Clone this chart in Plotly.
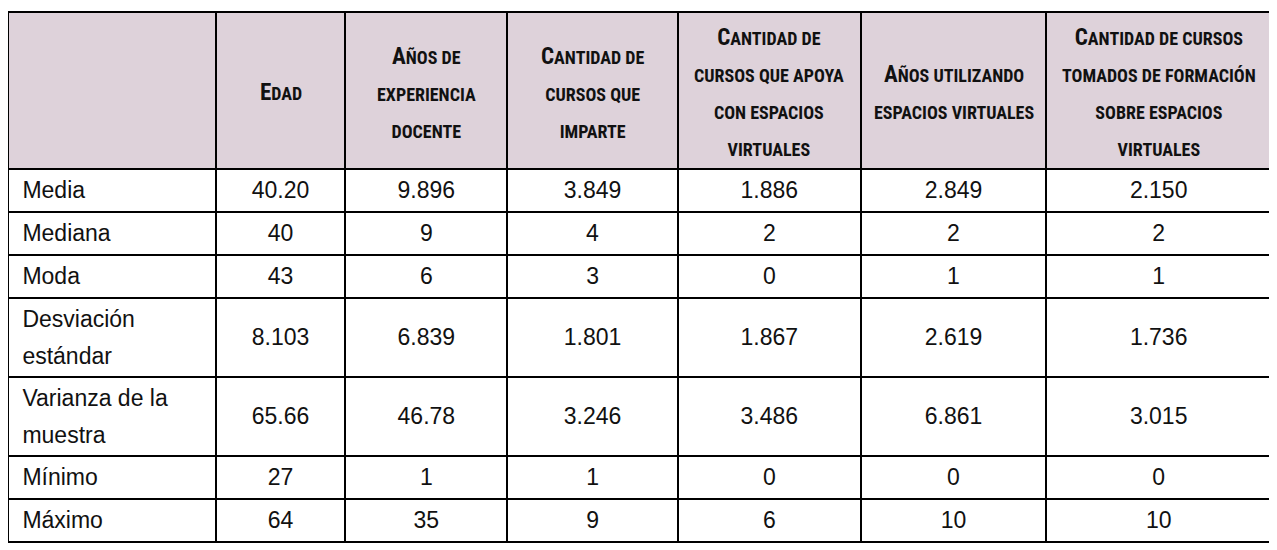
import plotly.graph_objects as go

# Datos de la tabla
encabezados = [
    [],
    ["Edad"],
    ["Años de", "experiencia", "docente"],
    ["Cantidad de", "cursos que", "imparte"],
    ["Cantidad de", "cursos que apoya", "con espacios", "virtuales"],
    ["Años utilizando", "espacios virtuales"],
    ["Cantidad de cursos", "tomados de formación", "sobre espacios", "virtuales"],
]
estadisticos = ["Media", "Mediana", "Moda", "Desviación<br>estándar",
                "Varianza de la<br>muestra", "Mínimo", "Máximo"]
edad = ["40.20", "40", "43", "8.103", "65.66", "27", "64"]
experiencia = ["9.896", "9", "6", "6.839", "46.78", "1", "35"]
cursos_imparte = ["3.849", "4", "3", "1.801", "3.246", "1", "9"]
cursos_apoya = ["1.886", "2", "0", "1.867", "3.486", "0", "6"]
anios_virtuales = ["2.849", "2", "1", "2.619", "6.861", "0", "10"]
cursos_formacion = ["2.150", "2", "1", "1.736", "3.015", "0", "10"]

anchos = [208, 130, 162, 171, 183, 186, 225]

GRANDE = 23
PEQUE = 18
BASE = 14.2  # interlineado = 1.3 * BASE (medio renglón)
TXT = 23
ESTILO_ENC = "font-stretch:condensed;"
FUENTE_ENC = "Noto Sans ExtraCondensed, Noto Sans Condensed, Roboto, sans-serif"


def sp(txt, size, extra=""):
    return f"<span style='font-size:{size}px;{extra}'>{txt}</span>"


def versalitas(lineas):
    # primera letra grande, resto en mayúsculas pequeñas
    partes = []
    for i, lin in enumerate(lineas):
        if i == 0:
            s = sp(lin[0].upper(), GRANDE, ESTILO_ENC) + sp(lin[1:].upper(), PEQUE, ESTILO_ENC)
        else:
            s = sp(lin.upper(), PEQUE, ESTILO_ENC)
        partes.append(s)
    return "<br>".join(partes)


dobles = ["<br>" in e for e in estadisticos]


def etiqueta(e):
    return "<br><br>".join(sp("&nbsp;" + p, TXT) for p in e.split("<br>")) + "<br>"


def celda(v, doble):
    return (sp("&nbsp;", TXT) + "<br>" if doble else "") + sp(v, TXT) + "<br>"


columnas = [[etiqueta(e) for e in estadisticos]] + [
    [celda(v, d) for v, d in zip(col, dobles)]
    for col in [edad, experiencia, cursos_imparte, cursos_apoya,
                anios_virtuales, cursos_formacion]]

fig = go.Figure(go.Table(
    columnwidth=anchos,
    header=dict(
        values=[""] * len(encabezados),
        fill_color="#ded2da",
        line=dict(color="black", width=2),
        height=157,
    ),
    cells=dict(
        values=columnas,
        fill_color="white",
        line=dict(color="black", width=2),
        align=["left"] + ["center"] * 6,
        height=43,
        font=dict(family="Liberation Sans, Arial, sans-serif", size=BASE, color="#111111"),
    ),
    domain=dict(x=[0, 1], y=[0, 1]),
))

# Encabezados en versalitas, centrados renglón por renglón
total = sum(anchos)
acum = 0
for h, w in zip(encabezados, anchos):
    if h:
        fig.add_annotation(
            text=versalitas(h),
            x=(acum + w / 2) / total, xref="paper", xanchor="center",
            y=1, yref="paper", yshift=-80, yanchor="middle",
            showarrow=False, align="center",
            font=dict(family=FUENTE_ENC, size=28.5, color="#111111", weight="bold"),
        )
    acum += w

fig.update_layout(
    width=1277, height=550,
    margin=dict(l=0, r=14, t=4, b=0),
    paper_bgcolor="white",
)

fig.write_html("out.html")
